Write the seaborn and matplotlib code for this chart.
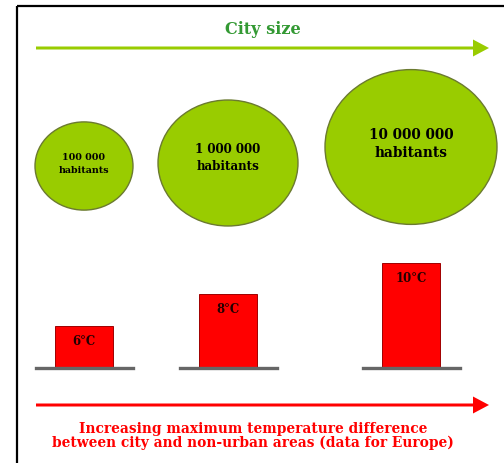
import numpy as np
import pandas as pd
import matplotlib
matplotlib.use("Agg")
import matplotlib.pyplot as plt
from matplotlib.colors import LogNorm
from matplotlib.path import Path
import seaborn as sns

# City sizes and the matching maximum urban/rural temperature difference
populations = [100_000, 1_000_000, 10_000_000]
population_labels = ["100 000\nhabitants", "1 000 000\nhabitants", "10 000 000\nhabitants"]
temp_diff = [6, 8, 10]
temp_labels = ["6°C", "8°C", "10°C"]

sns.set_theme(style="white")
plt.rcParams["font.family"] = ["DejaVu Serif"]

W, H = 504, 464
fig = plt.figure(figsize=(W / 100, H / 100), dpi=100)
fig.patch.set_facecolor("white")

# Canvas axes in pixel units (origin top-left)
bg = fig.add_axes([0, 0, 1, 1])
bg.set_xlim(0, W)
bg.set_ylim(H, 0)
bg.axis("off")

# Frame: top and left rules
bg.plot([17, W], [7, 7], color="black", lw=1.6, solid_capstyle="butt")
bg.plot([17, 17], [7, H], color="black", lw=1.6, solid_capstyle="butt")

GREEN = "#99cc00"
RED = "#ff0000"

# City size arrow
bg.arrow(36, 49, 453, 0, width=3, head_width=17, head_length=16,
         length_includes_head=True, color=GREEN, lw=0)
bg.text(263, 30, "City size", ha="center", va="center", color="#339933",
        fontsize=11.6, fontweight="bold")

# Temperature arrow
bg.arrow(36, 406, 453, 0, width=3, head_width=17, head_length=16,
         length_includes_head=True, color=RED, lw=0)
bg.text(253, 429, "Increasing maximum temperature difference", ha="center",
        va="center", color=RED, fontsize=9.9, fontweight="bold")
bg.text(253, 443, "between city and non-urban areas (data for Europe)", ha="center",
        va="center", color=RED, fontsize=9.9, fontweight="bold")

# Column layout (pixels)
col_x = [84, 228, 411]
circle_y = [167, 164, 148]
text_size = [6.8, 8.6, 9.8]
text_y = [164, 158, 144]

# Cities as ellipse markers sized by population (log scale)
unit = Path.unit_circle()
ellipse = Path(unit.vertices * np.array([1.0, 0.9]), unit.codes)
cities = pd.DataFrame({"x": col_x, "y": circle_y, "population": populations})
sns.scatterplot(data=cities, x="x", y="y", size="population",
                size_norm=LogNorm(min(populations), max(populations)),
                sizes=(4978, 15335), marker=ellipse, color=GREEN,
                edgecolor="#6b7a30", linewidth=1.0, legend=False, ax=bg, zorder=3)
bg.set_xlim(0, W)
bg.set_ylim(H, 0)
bg.axis("off")
for x, y, lab, fs in zip(col_x, text_y, population_labels, text_size):
    bg.text(x, y, lab, ha="center", va="center", fontsize=fs,
            fontweight="bold", color="black", linespacing=1.45, zorder=4)

# Temperature bars, one panel per city
base_px = 369
panel_w = 97
panel_h = 120
vmin = 3.32
px_per_deg = 15.75
vmax = vmin + panel_h / px_per_deg
for x, val, lab in zip(col_x, temp_diff, temp_labels):
    ax = fig.add_axes([(x - panel_w / 2) / W, (H - base_px) / H,
                       panel_w / W, panel_h / H])
    sns.barplot(x=[lab], y=[val], color=RED, saturation=1, width=0.6,
                edgecolor="#a00000", linewidth=0.7, ax=ax)
    ax.set_ylim(vmin, vmax)
    ax.set_xlim(-0.5, 0.5)
    ax.patch.set_alpha(0)
    for s in ["top", "left", "right"]:
        ax.spines[s].set_visible(False)
    ax.spines["bottom"].set_color("#666666")
    ax.spines["bottom"].set_linewidth(2.4)
    ax.set_xticks([])
    ax.set_yticks([])
    ax.set_xlabel("")
    ax.set_ylabel("")
    ax.annotate(lab, xy=(0, val), xytext=(0, -10.5), textcoords="offset points",
                ha="center", va="center", fontsize=8.5, fontweight="bold",
                color="#220000")

fig.savefig("out.png", dpi=100, facecolor="white")
